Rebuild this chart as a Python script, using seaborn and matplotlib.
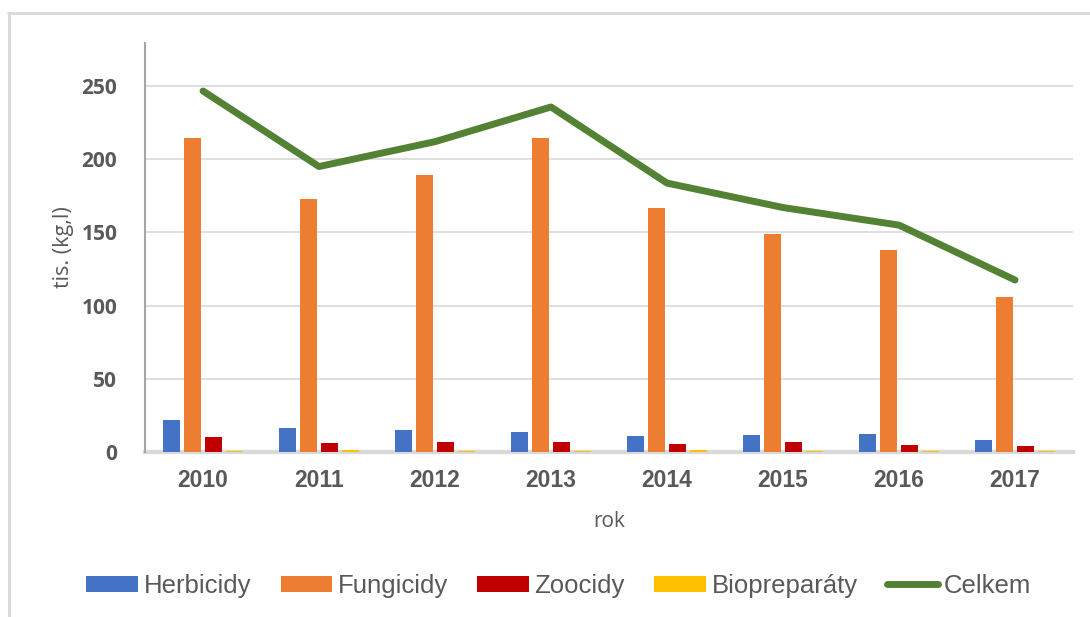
import numpy as np
import pandas as pd
import matplotlib
matplotlib.use("Agg")
import matplotlib.pyplot as plt
import seaborn as sns
from matplotlib.lines import Line2D
from matplotlib.patches import Patch

years = ["2010", "2011", "2012", "2013", "2014", "2015", "2016", "2017"]
herbicidy = [21.9, 16.4, 15.0, 13.7, 11.0, 11.6, 12.3, 8.2]
fungicidy = [214.5, 173.0, 189.0, 214.5, 167.0, 149.0, 138.0, 106.0]
zoocidy = [10.0, 6.0, 7.0, 6.5, 5.5, 6.5, 5.0, 4.0]
biopreparaty = [0.9, 1.1, 1.0, 1.0, 1.1, 0.8, 0.9, 0.8]
celkem = [246.6, 195.0, 212.0, 235.7, 183.7, 167.0, 155.0, 117.5]

series_names = ["Herbicidy", "Fungicidy", "Zoocidy", "Biopreparáty"]
colors = ["#4472C4", "#ED7D31", "#C00000", "#FFC000"]
line_color = "#548235"

df = pd.DataFrame({
    "rok": np.repeat(years, 4),
    "serie": series_names * len(years),
    "hodnota": np.ravel(np.column_stack([herbicidy, fungicidy, zoocidy, biopreparaty])),
})

sns.set_theme(style="white")
plt.rcParams["font.family"] = ["Liberation Sans", "DejaVu Sans"]

fig = plt.figure(figsize=(10.9, 6.17), dpi=100)
ax = fig.add_axes([145/1090, 1-452/617, (1073-145)/1090, (452-43)/617])

sns.barplot(data=df, x="rok", y="hodnota", hue="serie", hue_order=series_names,
            palette=colors, width=0.72, gap=0.2, ax=ax, legend=False,
            saturation=1, edgecolor="none", zorder=3)
sns.lineplot(x=np.arange(len(years)), y=celkem, color=line_color, linewidth=5,
             ax=ax, solid_capstyle="round", solid_joinstyle="round", zorder=5)

ax.set_xlim(-0.5, len(years)-0.5)
ax.set_ylim(0, 279.4)
ax.set_yticks([0, 50, 100, 150, 200, 250])
ax.yaxis.grid(True, color="#D9D9D9", linewidth=1.2)
ax.set_axisbelow(True)
for s in ["top", "right"]:
    ax.spines[s].set_visible(False)
ax.spines["left"].set_color("#A6A6A6")
ax.spines["left"].set_linewidth(1.5)
ax.spines["bottom"].set_color("#D9D9D9")
ax.spines["bottom"].set_linewidth(3)
ax.spines["bottom"].set_zorder(1)
ax.tick_params(axis="both", length=0)
ax.tick_params(axis="y", pad=20)
ax.tick_params(axis="x", pad=12)

for lbl in ax.get_yticklabels():
    lbl.set_fontfamily("Open Sans")
    lbl.set_fontweight("bold")
    lbl.set_fontsize(15)
    lbl.set_color("#595959")
for lbl in ax.get_xticklabels():
    lbl.set_fontfamily("Liberation Sans")
    lbl.set_fontweight("bold")
    lbl.set_fontsize(16.5)
    lbl.set_color("#595959")

ax.set_ylabel("tis. (kg,l)", fontfamily="Open Sans", fontsize=15.5, color="#595959", labelpad=5)
ax.set_xlabel("rok", fontfamily="Open Sans", fontsize=15, color="#595959", labelpad=14)

handles = [Patch(facecolor=c, edgecolor="none") for c in colors]
handles.append(Line2D([0], [0], color=line_color, linewidth=5, solid_capstyle="round"))
labels = series_names + ["Celkem"]
fig.legend(handles, labels, loc="center", bbox_to_anchor=(559/1090, 1-586/617), ncol=5,
           frameon=False, fontsize=18.5, handlelength=2.0, handleheight=0.58,
           handletextpad=0.22, columnspacing=1.15, labelcolor="#595959",
           borderaxespad=0, borderpad=0)

# outer chart border
fig.add_artist(Line2D([8/1090, 1], [1-13/617, 1-13/617], color="#D9D9D9", linewidth=2, transform=fig.transFigure))
fig.add_artist(Line2D([9/1090, 9/1090], [0, 1-13/617], color="#D9D9D9", linewidth=2, transform=fig.transFigure))

fig.savefig("out.png", dpi=100)
